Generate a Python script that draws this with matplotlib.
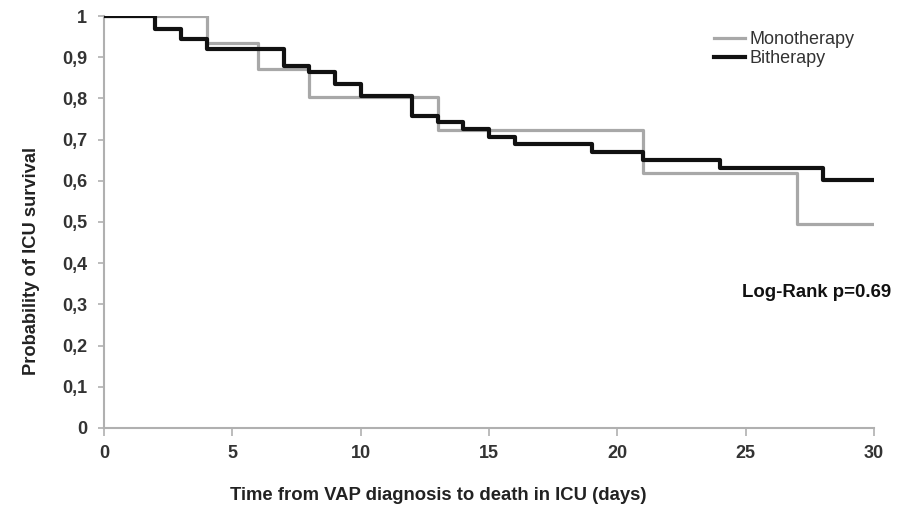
import matplotlib.pyplot as plt
from matplotlib.ticker import FuncFormatter

plt.rcParams['font.family'] = ['Liberation Sans', 'DejaVu Sans']

# Kaplan-Meier steps: event days and survival after each drop
mono_days = [0, 4, 6, 8, 13, 21, 27, 30]
mono_surv = [1.0, 0.935, 0.871, 0.803, 0.723, 0.620, 0.494, 0.494]

bi_days = [0, 2, 3, 4, 7, 8, 9, 10, 12, 13, 14, 15, 16, 19, 21, 24, 28, 30]
bi_surv = [1.0, 0.969, 0.943, 0.921, 0.879, 0.865, 0.835, 0.807, 0.757,
           0.742, 0.725, 0.707, 0.689, 0.669, 0.650, 0.630, 0.603, 0.603]

x_ticks = [0, 5, 10, 15, 20, 25, 30]
y_ticks = [0, 0.1, 0.2, 0.3, 0.4, 0.5, 0.6, 0.7, 0.8, 0.9, 1]

fig = plt.figure(figsize=(9.02, 5.08), dpi=100)
ax = fig.add_axes([0.1153, 0.1575, 0.8537, 0.811])

ax.step(mono_days, mono_surv, where='post', color='#a8a8a8', lw=2.3,
        label='Monotherapy', zorder=2)
ax.step(bi_days, bi_surv, where='post', color='#111111', lw=3.0,
        label='Bitherapy', zorder=3)

ax.set_xlim(0, 30)
ax.set_ylim(0, 1)
ax.set_xticks(x_ticks)
ax.set_yticks(y_ticks)
ax.yaxis.set_major_formatter(FuncFormatter(
    lambda v, p: '0' if v == 0 else ('1' if v == 1 else ('%.1f' % v).replace('.', ','))))

for s in ['top', 'right']:
    ax.spines[s].set_visible(False)
for s in ['left', 'bottom']:
    ax.spines[s].set_color('#b0b0b0')
    ax.spines[s].set_linewidth(1.5)

ax.tick_params(axis='x', direction='out', length=6, width=1.2,
               color='#b0b0b0', labelsize=13, labelcolor='#333333', pad=6)
ax.tick_params(axis='y', direction='out', length=4, width=1.2,
               color='#b0b0b0', labelsize=13, labelcolor='#333333', pad=8)
for lbl in ax.get_xticklabels() + ax.get_yticklabels():
    lbl.set_fontweight('bold')

fig.text(0.035, 0.486, 'Probability of ICU survival', rotation=90,
         ha='center', va='center', fontsize=13.2, fontweight='bold',
         color='#222222')
fig.text(0.486, 0.025, 'Time from VAP diagnosis to death in ICU (days)',
         ha='center', va='center', fontsize=13.3, fontweight='bold',
         color='#222222')

ax.text(24.85, 0.328, 'Log-Rank p=0.69', ha='left', va='center',
        fontsize=13.4, fontweight='bold', color='#111111')

leg = ax.legend(loc='upper left', bbox_to_anchor=(0.792, 0.963), frameon=False,
                fontsize=13, handlelength=1.7, handletextpad=0.28,
                labelspacing=0.09, borderaxespad=0, borderpad=0)
for t in leg.get_texts():
    t.set_color('#333333')

fig.savefig('out.png', dpi=100)
